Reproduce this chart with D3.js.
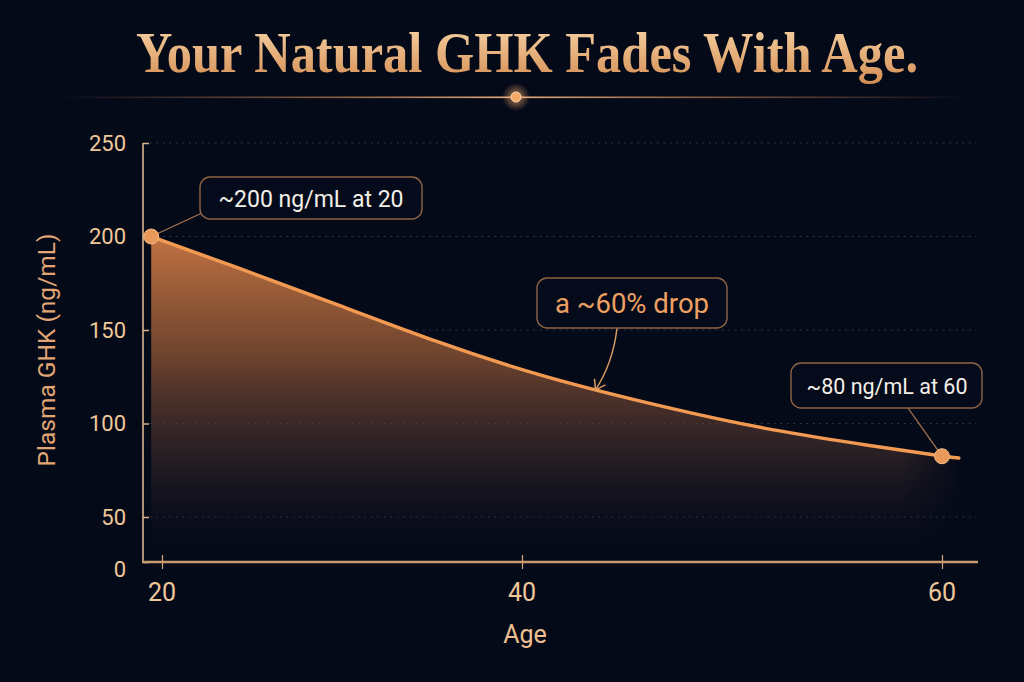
<!DOCTYPE html>
<html><head><meta charset="utf-8">
<script src="https://cdn.jsdelivr.net/npm/d3@7"></script>
<style>html,body{margin:0;padding:0;background:#050a19;}svg{display:block;}</style>
</head><body>
<svg id="c" width="1024" height="682"></svg>
<script>
// ---- data ----
const title = "Your Natural GHK Fades With Age.";
const ages   = [19.4, 24.3, 29.9, 35.4, 40.9, 47.2, 52, 56.7, 60, 60.8];
const values = [200, 183, 163, 143, 125, 107.5, 96, 88, 82.5, 81.5];
const xTicks = [20, 40, 60];
const yTicks = [0, 50, 100, 150, 200, 250];
const xLabel = "Age";
const yLabel = "Plasma GHK (ng/mL)";
const notes = [
  {text: "~200 ng/mL at 20", age: 19.4, val: 200, kind: "point"},
  {text: "a ~60% drop", age: 43.5, val: 118, kind: "arrow"},
  {text: "~80 ng/mL at 60", age: 60, val: 82.5, kind: "point"}
];

const svg = d3.select("#c");
const defs = svg.append("defs");
svg.append("rect").attr("width",1024).attr("height",682).attr("fill","#050a19");

// scales (axis is piecewise as drawn in the reference)
const x = d3.scaleLinear().domain([20,40,60]).range([162,522,942]);
const y = d3.scaleLinear().domain([0,50,250]).range([562,517,143]);

// title
const tg = defs.append("linearGradient").attr("id","tg").attr("x1",0).attr("y1",0).attr("x2",0).attr("y2",1);
tg.append("stop").attr("offset","0%").attr("stop-color","#f8d6a8");
tg.append("stop").attr("offset","100%").attr("stop-color","#d48c52");
svg.append("text").attr("x",527).attr("y",72).attr("text-anchor","middle")
  .attr("font-family","Liberation Serif, serif").attr("font-weight","bold").attr("font-size",56)
  .attr("textLength",782).attr("lengthAdjust","spacingAndGlyphs")
  .attr("fill","url(#tg)").text(title);

// divider
const dg = defs.append("linearGradient").attr("id","dg").attr("x1",0).attr("x2",1).attr("y1",0).attr("y2",0);
dg.append("stop").attr("offset","0%").attr("stop-color","#c08050").attr("stop-opacity",0);
dg.append("stop").attr("offset","30%").attr("stop-color","#c08050").attr("stop-opacity",0.7);
dg.append("stop").attr("offset","50%").attr("stop-color","#e8b080").attr("stop-opacity",1);
dg.append("stop").attr("offset","70%").attr("stop-color","#c08050").attr("stop-opacity",0.7);
dg.append("stop").attr("offset","100%").attr("stop-color","#c08050").attr("stop-opacity",0);
svg.append("rect").attr("x",60).attr("y",96.5).attr("width",910).attr("height",1.6).attr("fill","url(#dg)");
const glow = defs.append("radialGradient").attr("id","glow");
glow.append("stop").attr("offset","0%").attr("stop-color","#ffb070").attr("stop-opacity",0.7);
glow.append("stop").attr("offset","100%").attr("stop-color","#ffb070").attr("stop-opacity",0);
svg.append("circle").attr("cx",516).attr("cy",97).attr("r",14).attr("fill","url(#glow)");
svg.append("circle").attr("cx",516).attr("cy",97).attr("r",5).attr("fill","#f3a868").attr("stroke","#ffd9b0").attr("stroke-width",1);

// gridlines
svg.append("g").selectAll("line").data(yTicks.filter(d=>d>0)).join("line")
  .attr("x1",150).attr("x2",976).attr("y1",d=>y(d)).attr("y2",d=>y(d))
  .attr("stroke","#4a5064").attr("stroke-width",1.2).attr("stroke-dasharray","1.5 5").attr("opacity",0.75);

// area
const pts = ages.map((a,i)=>({a, v: values[i]}));
const ag = defs.append("linearGradient").attr("id","ag").attr("gradientUnits","userSpaceOnUse")
  .attr("x1",0).attr("x2",0).attr("y1",y(200)).attr("y2",y(0));
ag.append("stop").attr("offset","0%").attr("stop-color","#cc7844").attr("stop-opacity",0.95);
ag.append("stop").attr("offset","35%").attr("stop-color","#8e5535").attr("stop-opacity",0.8);
ag.append("stop").attr("offset","70%").attr("stop-color","#3c2b2c").attr("stop-opacity",0.55);
ag.append("stop").attr("offset","100%").attr("stop-color","#0a0e1c").attr("stop-opacity",0);
const fm = defs.append("linearGradient").attr("id","fm").attr("gradientUnits","userSpaceOnUse")
  .attr("x1",x(58)).attr("x2",x(61)).attr("y1",0).attr("y2",0);
fm.append("stop").attr("offset","0%").attr("stop-color","#fff");
fm.append("stop").attr("offset","100%").attr("stop-color","#000");
defs.append("mask").attr("id","m").append("rect").attr("x",0).attr("y",0).attr("width",1024).attr("height",682).attr("fill","url(#fm)");

const area = d3.area().x(d=>x(d.a)).y0(y(0)).y1(d=>y(d.v)).curve(d3.curveBasis);
svg.append("path").datum(pts).attr("d",area).attr("fill","url(#ag)").attr("mask","url(#m)");

const line = d3.line().x(d=>x(d.a)).y(d=>y(d.v)).curve(d3.curveBasis);
svg.append("path").datum(pts).attr("d",line).attr("fill","none")
  .attr("stroke","#f29a52").attr("stroke-width",3.5).attr("stroke-linecap","round");

// axes
const yAx = svg.append("g").attr("transform",`translate(${143},0)`)
  .call(d3.axisRight(y).tickValues(yTicks).tickSize(6).tickFormat(""));
yAx.select(".domain").remove();
yAx.selectAll(".tick line").attr("stroke","#d8b48a").attr("stroke-width",1.5);
svg.append("line").attr("x1",143).attr("x2",143).attr("y1",y(250)).attr("y2",y(0))
  .attr("stroke","#d9b58b").attr("stroke-width",1.6);
svg.append("g").selectAll("text").data(yTicks).join("text")
  .attr("x",126).attr("y",d=>y(d)+(d===0?7:0)).attr("dy","0.36em").attr("text-anchor","end")
  .attr("font-family","Roboto, sans-serif").attr("font-size",22).attr("fill","#efc89a").text(d=>d);

const xAx = svg.append("g").attr("transform",`translate(0,${y(0)})`)
  .call(d3.axisBottom(x).tickValues(xTicks).tickSize(7).tickFormat(""));
xAx.select(".domain").remove();
xAx.selectAll(".tick line").attr("stroke","#d8a878").attr("stroke-width",1.2).attr("y1",-7);
svg.append("line").attr("x1",142).attr("x2",978).attr("y1",y(0)).attr("y2",y(0))
  .attr("stroke","#c99a6c").attr("stroke-width",2.5);
svg.append("g").selectAll("text").data(xTicks).join("text")
  .attr("x",d=>x(d)).attr("y",601).attr("text-anchor","middle")
  .attr("font-family","Roboto, sans-serif").attr("font-size",25).attr("fill","#efc89a").text(d=>d);

svg.append("text").attr("x",525).attr("y",643).attr("text-anchor","middle")
  .attr("font-family","Roboto, sans-serif").attr("font-size",25).attr("fill","#efc090").text(xLabel);
svg.append("text").attr("transform","translate(55,350) rotate(-90)").attr("text-anchor","middle")
  .attr("font-family","Roboto, sans-serif").attr("font-size",24.5).attr("fill","#e2a674").text(yLabel);

// annotations
const boxes = [
  {x:200, y:177, w:222, h:42, tx:311, ty:207, color:"#f3efe8", size:23, lx:202, ly:213},
  {x:537, y:278, w:190, h:50, tx:632, ty:313, color:"#eea062", size:27.5, lx:617, ly:328},
  {x:791, y:363, w:191, h:45, tx:887, ty:394, color:"#f3efe8", size:21.5, lx:908, ly:408}
];
notes.forEach((n,i)=>{
  const b = boxes[i];
  const px = x(n.age), py = y(n.val);
  if (n.kind === "point") {
    svg.append("line").attr("x1",b.lx).attr("y1",b.ly).attr("x2",px).attr("y2",py)
      .attr("stroke","#a87550").attr("stroke-width",1.3);
  } else {
    svg.append("path").attr("d",`M${b.lx},${b.ly} Q${b.lx-4},${(b.ly+py)/2+4} ${px},${py}`)
      .attr("fill","none").attr("stroke","#d99a62").attr("stroke-width",1.5);
    svg.append("path").attr("d",`M${px-1},${py-11} L${px},${py} L${px+10},${py-5}`)
      .attr("fill","none").attr("stroke","#d99a62").attr("stroke-width",1.5);
  }
  svg.append("rect").attr("x",b.x).attr("y",b.y).attr("width",b.w).attr("height",b.h).attr("rx",10)
    .attr("fill","#070c1b").attr("fill-opacity",0.92).attr("stroke","#8e6444").attr("stroke-width",1.4);
  svg.append("text").attr("x",b.tx).attr("y",b.ty).attr("text-anchor","middle")
    .attr("font-family","Roboto, sans-serif").attr("font-size",b.size).attr("fill",b.color).text(n.text);
  if (n.kind === "point") {
    svg.append("circle").attr("cx",px).attr("cy",py).attr("r",7.5)
      .attr("fill","#e99a5a").attr("stroke","#f6bb85").attr("stroke-width",1);
  }
});
</script>
</body></html>
